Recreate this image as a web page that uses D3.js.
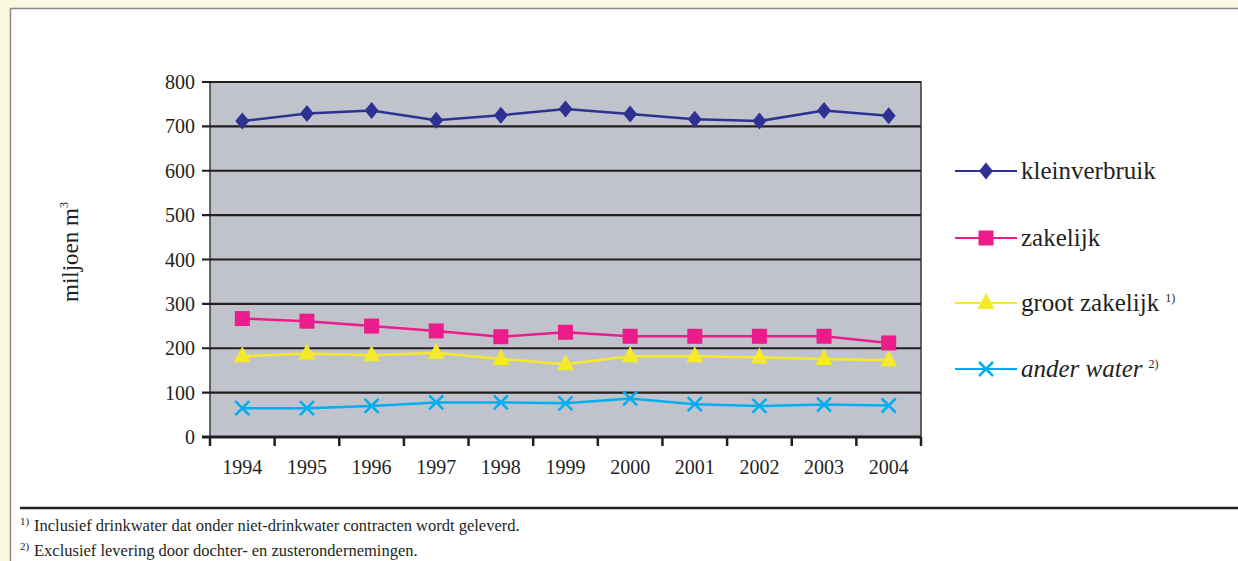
<!DOCTYPE html>
<html>
<head>
<meta charset="utf-8">
<script src="https://cdn.jsdelivr.net/npm/d3@7"></script>
<style>
  body { margin: 0; background: #fbf8e2; }
  svg { display: block; }
  svg text { font-family: "Liberation Serif", "Times New Roman", serif; }
</style>
</head>
<body>
<svg id="chart"></svg>
<script>
// Data
const years = ["1994", "1995", "1996", "1997", "1998", "1999", "2000", "2001", "2002", "2003", "2004"];
const kleinverbruik = [712, 729, 736, 714, 725, 739, 728, 716, 712, 736, 724];
const zakelijk = [267, 261, 250, 239, 226, 236, 227, 227, 227, 227, 212];
const grootZakelijk = [182, 188, 184, 190, 176, 164, 182, 182, 179, 176, 173];
const anderWater = [65, 65, 70, 78, 78, 76, 87, 74, 70, 73, 71];
const yTicks = [0, 100, 200, 300, 400, 500, 600, 700, 800];

const width = 1238;
const height = 561;
const plotLeft = 210, plotRight = 921, plotTop = 82, plotBottom = 437;
const serif = "'Liberation Serif', 'Times New Roman', serif";

const svg = d3.select("#chart")
  .attr("width", width)
  .attr("height", height)
  .attr("font-family", serif);

// white panel with a thin border (cream shows at top and left)
svg.append("rect")
  .attr("x", 10.5).attr("y", 8.5)
  .attr("width", width).attr("height", height)
  .attr("fill", "#fff")
  .attr("stroke", "#8a8a85")
  .attr("stroke-width", 1.5);

const x = d3.scaleBand().domain(years).range([plotLeft, plotRight]);
const y = d3.scaleLinear().domain([0, 800]).range([plotBottom, plotTop]);

// plot background
svg.append("rect")
  .attr("x", plotLeft).attr("y", plotTop)
  .attr("width", plotRight - plotLeft).attr("height", plotBottom - plotTop)
  .attr("fill", "#c0c3cb")
  .attr("stroke", "#3a3a3a")
  .attr("stroke-width", 1.5);

// gridlines + left ticks
svg.selectAll(".grid")
  .data(yTicks)
  .join("line")
  .attr("class", "grid")
  .attr("x1", plotLeft - 8).attr("x2", plotRight)
  .attr("y1", d => y(d)).attr("y2", d => y(d))
  .attr("stroke", "#231f20")
  .attr("stroke-width", d => d === 0 ? 3 : 2.2);

svg.selectAll(".ylab")
  .data(yTicks)
  .join("text")
  .attr("class", "ylab")
  .attr("x", 195)
  .attr("y", d => y(d))
  .attr("dy", "0.35em")
  .attr("text-anchor", "end")
  .attr("font-family", serif)
  .attr("font-size", 20)
  .attr("fill", "#231f20")
  .text(d => d);

// x ticks at band boundaries
const bounds = years.map(d => x(d)).concat([plotRight]);
svg.selectAll(".xtick")
  .data(bounds)
  .join("line")
  .attr("class", "xtick")
  .attr("x1", d => d).attr("x2", d => d)
  .attr("y1", plotBottom).attr("y2", plotBottom + 9)
  .attr("stroke", "#231f20")
  .attr("stroke-width", 2.5);

svg.selectAll(".xlab")
  .data(years)
  .join("text")
  .attr("class", "xlab")
  .attr("x", d => x(d) + x.bandwidth() / 2)
  .attr("y", 474)
  .attr("text-anchor", "middle")
  .attr("font-family", serif)
  .attr("font-size", 20)
  .attr("fill", "#231f20")
  .text(d => d);

// y axis title
const yt = svg.append("text")
  .attr("transform", "translate(78,252) rotate(-90)")
  .attr("text-anchor", "middle")
  .attr("font-family", serif)
  .attr("font-size", 23)
  .attr("fill", "#231f20");
yt.append("tspan").text("miljoen m");
yt.append("tspan").attr("font-size", 12).attr("dy", -10).text("3");

// marker shapes
function drawMarker(g, type, color) {
  if (type === "diamond") {
    g.append("path").attr("d", "M0,-8.5L7,0L0,8.5L-7,0Z").attr("fill", color);
  } else if (type === "square") {
    g.append("rect").attr("x", -7.5).attr("y", -7.5).attr("width", 15).attr("height", 15).attr("fill", color);
  } else if (type === "triangle") {
    g.append("path").attr("d", "M0,-10L8.5,6L-8.5,6Z").attr("fill", color);
  } else if (type === "cross") {
    g.append("path").attr("d", "M-7,-7L7,7M-7,7L7,-7").attr("stroke", color).attr("stroke-width", 2.5).attr("fill", "none");
  }
}

const series = [
  { name: "kleinverbruik", values: kleinverbruik, color: "#2e3192", marker: "diamond", note: "", italic: false },
  { name: "zakelijk", values: zakelijk, color: "#ec1c8c", marker: "square", note: "", italic: false },
  { name: "groot zakelijk", values: grootZakelijk, color: "#f4ea2a", marker: "triangle", note: "1)", italic: false },
  { name: "ander water", values: anderWater, color: "#00aeef", marker: "cross", note: "2)", italic: true }
];

const line = d3.line()
  .x((d, i) => x(years[i]) + x.bandwidth() / 2)
  .y(d => y(d));

// draw bottom series first
series.slice().reverse().forEach(s => {
  svg.append("path")
    .datum(s.values)
    .attr("d", line)
    .attr("fill", "none")
    .attr("stroke", s.color)
    .attr("stroke-width", 2.5);

  s.values.forEach((v, i) => {
    const g = svg.append("g")
      .attr("transform", `translate(${x(years[i]) + x.bandwidth() / 2},${y(v)})`);
    drawMarker(g, s.marker, s.color);
  });
});

// legend
const legendY = [171, 238, 303, 369];
series.forEach((s, i) => {
  const g = svg.append("g").attr("transform", `translate(955,${legendY[i]})`);
  g.append("line")
    .attr("x1", 0).attr("x2", 62)
    .attr("y1", 0).attr("y2", 0)
    .attr("stroke", s.color).attr("stroke-width", 2);
  const m = g.append("g").attr("transform", "translate(31,0)");
  drawMarker(m, s.marker, s.color);
  const t = g.append("text")
    .attr("x", 66)
    .attr("y", 8)
    .attr("font-family", serif)
    .attr("font-size", 25)
    .attr("font-style", s.italic ? "italic" : "normal")
    .attr("fill", "#231f20")
    .text(s.name);
  if (s.note) {
    t.append("tspan")
      .attr("font-size", 12)
      .attr("font-style", "normal")
      .attr("dx", 6)
      .attr("dy", -9)
      .text(s.note);
  }
});

// footnotes
svg.append("line")
  .attr("x1", 20).attr("x2", width)
  .attr("y1", 508).attr("y2", 508)
  .attr("stroke", "#231f20").attr("stroke-width", 2.5);

const notes = [
  ["1)", "Inclusief drinkwater dat onder niet-drinkwater contracten wordt geleverd."],
  ["2)", "Exclusief levering door dochter- en zusterondernemingen."]
];
notes.forEach((n, i) => {
  const by = 531 + i * 25;
  svg.append("text")
    .attr("x", 20).attr("y", by - 6)
    .attr("font-family", serif)
    .attr("font-size", 11)
    .attr("fill", "#231f20")
    .text(n[0]);
  svg.append("text")
    .attr("x", 34).attr("y", by)
    .attr("font-family", serif)
    .attr("font-size", 16.5)
    .attr("fill", "#231f20")
    .text(n[1]);
});
</script>
</body>
</html>
